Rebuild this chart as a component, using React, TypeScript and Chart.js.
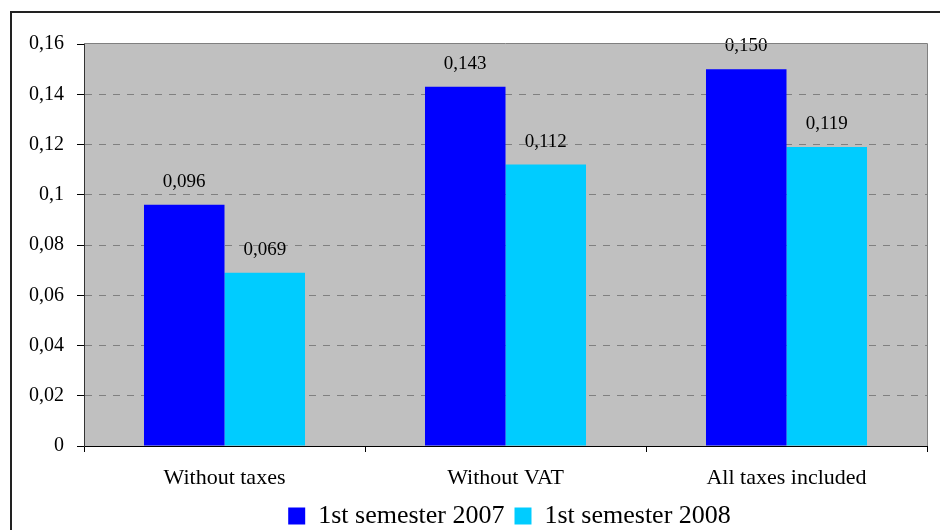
import React, { useEffect, useRef } from 'react';
import { Chart, registerables } from 'chart.js';

Chart.register(...registerables);

const categories = ['Without taxes', 'Without VAT', 'All taxes included'];
const seriesNames = ['1st semester 2007', '1st semester 2008'];
const values2007 = [0.096, 0.143, 0.15];
const values2008 = [0.069, 0.112, 0.119];
const seriesColors = ['#0000FF', '#00CCFF'];
const yMin = 0;
const yMax = 0.16;
const yStep = 0.02;

const SERIF = "'Liberation Serif', 'Times New Roman', serif";

const fmtTick = (v: number) => String(Number(v.toFixed(2))).replace('.', ',');
const fmtValue = (v: number) => v.toFixed(3).replace('.', ',');

const framePlugin = {
  id: 'frame',
  afterLayout(chart: any) {
    const lg = chart.legend;
    if (lg) {
      lg.left += 46;
      lg.right += 46;
    }
  },
  beforeDraw(chart: any) {
    const { ctx, chartArea: a } = chart;
    ctx.save();
    ctx.fillStyle = '#C0C0C0';
    ctx.fillRect(a.left, a.top, a.right - a.left, a.bottom - a.top);
    ctx.restore();
  },
  afterDraw(chart: any) {
    const { ctx, chartArea: a } = chart;
    ctx.save();
    ctx.strokeStyle = '#808080';
    ctx.lineWidth = 1;
    ctx.beginPath();
    ctx.moveTo(a.left, a.top - 0.5);
    ctx.lineTo(a.right + 0.5, a.top - 0.5);
    ctx.lineTo(a.right + 0.5, a.bottom);
    ctx.stroke();
    ctx.strokeStyle = '#222222';
    ctx.lineWidth = 2;
    ctx.strokeRect(11, 12, 2000, 2000);
    ctx.restore();
  },
};

const valueLabelPlugin = {
  id: 'valueLabels',
  afterDatasetsDraw(chart: any) {
    const { ctx } = chart;
    ctx.save();
    ctx.font = `19px ${SERIF}`;
    ctx.fillStyle = '#000000';
    ctx.textAlign = 'center';
    ctx.textBaseline = 'alphabetic';
    chart.data.datasets.forEach((ds: any, di: number) => {
      const meta = chart.getDatasetMeta(di);
      meta.data.forEach((el: any, i: number) => {
        ctx.fillText(fmtValue(ds.data[i]), el.x, el.y - 18);
      });
    });
    ctx.restore();
  },
};

export default function App() {
  const canvasRef = useRef<HTMLCanvasElement | null>(null);

  useEffect(() => {
    if (!canvasRef.current) return;
    const chart = new Chart(canvasRef.current, {
      type: 'bar',
      data: {
        labels: categories,
        datasets: [
          { label: seriesNames[0], data: values2007, backgroundColor: seriesColors[0], borderWidth: 0 },
          { label: seriesNames[1], data: values2008, backgroundColor: seriesColors[1], borderWidth: 0 },
        ],
      },
      options: {
        animation: false,
        responsive: false,
        maintainAspectRatio: false,
        datasets: { bar: { categoryPercentage: 0.573, barPercentage: 1.0 } },
        layout: { padding: { left: 0, right: 13, top: 44, bottom: -9 } },
        plugins: {
          tooltip: { enabled: false },
          legend: {
            position: 'bottom',
            labels: {
              font: { family: SERIF, size: 26 },
              color: '#000000',
              boxWidth: 17,
              boxHeight: 17,
              padding: 10,
            },
          },
        },
        scales: {
          x: {
            afterFit: (s: any) => { s.height = 47; },
            grid: {
              display: true,
              drawOnChartArea: false,
              drawTicks: true,
              tickLength: 6,
              tickColor: '#000000',
              offset: true,
            },
            border: { display: true, color: '#000000', width: 1 },
            ticks: {
              font: { family: SERIF, size: 22 },
              color: '#000000',
              padding: 13,
              maxRotation: 0,
            },
          },
          y: {
            min: yMin,
            max: yMax,
            afterFit: (s: any) => { s.width = 84; },
            grid: {
              color: (c: any) => (c.tick && (c.tick.value === yMin || Math.abs(c.tick.value - yMax) < 1e-9) ? 'rgba(0,0,0,0)' : '#808080'),
              lineWidth: 1,
              drawTicks: true,
              tickLength: 7,
              tickColor: '#000000',
              tickBorderDash: [],
            },
            border: { display: true, color: '#333333', width: 1, dash: [7, 7] },
            ticks: {
              stepSize: yStep,
              font: { family: SERIF, size: 20 },
              color: '#000000',
              padding: 13,
              callback: (v: any) => fmtTick(Number(v)),
            },
          },
        },
      },
      plugins: [framePlugin, valueLabelPlugin],
    });
    return () => chart.destroy();
  }, []);

  return (
    <div style={{ position: 'fixed', left: 0, top: 0, width: 940, height: 530, background: '#ffffff' }}>
      <canvas ref={canvasRef} width={940} height={530} style={{ display: 'block', width: 940, height: 530 }} />
    </div>
  );
}
